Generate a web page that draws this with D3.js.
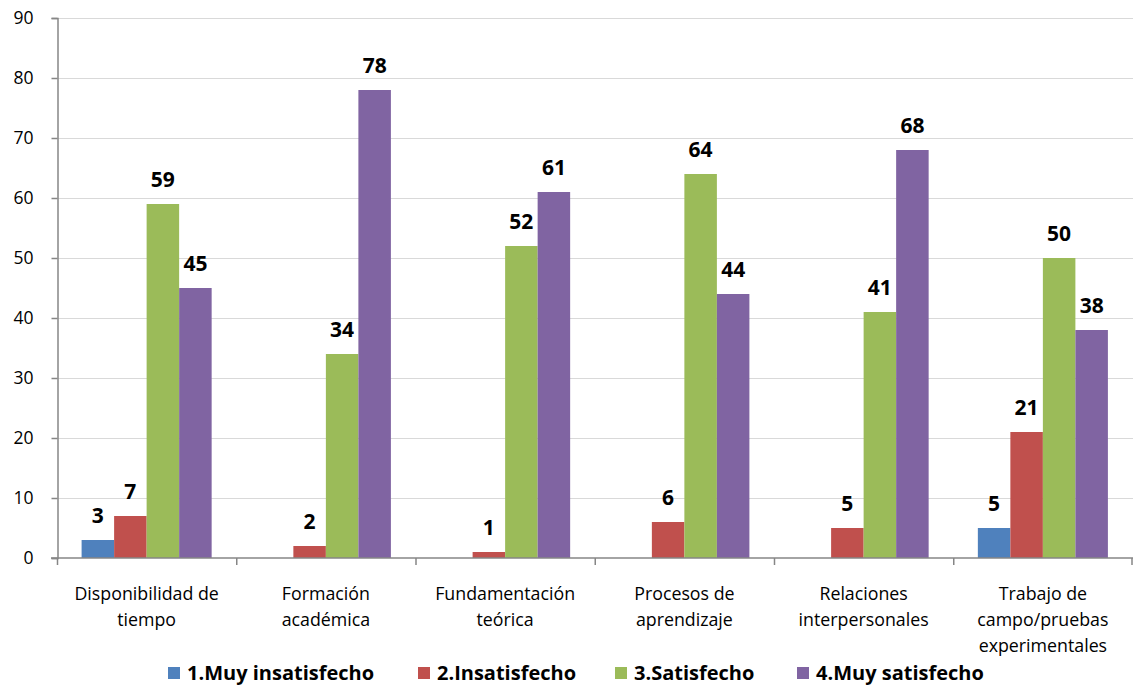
<!DOCTYPE html>
<html>
<head>
<meta charset="utf-8">
<script src="https://cdn.jsdelivr.net/npm/d3@7"></script>
<style>
  body { margin: 0; background: #fff; }
  text { font-family: "Open Sans", "Liberation Sans", sans-serif; }
</style>
</head>
<body>
<div id="chart"></div>
<script>
const categories = [
  ["Disponibilidad de", "tiempo"],
  ["Formación", "académica"],
  ["Fundamentación", "teórica"],
  ["Procesos de", "aprendizaje"],
  ["Relaciones", "interpersonales"],
  ["Trabajo de", "campo/pruebas", "experimentales"]
];
const seriesNames = ["1.Muy insatisfecho", "2.Insatisfecho", "3.Satisfecho", "4.Muy satisfecho"];
const muyInsatisfecho = [3, 0, 0, 0, 0, 5];
const insatisfecho = [7, 2, 1, 6, 5, 21];
const satisfecho = [59, 34, 52, 64, 41, 50];
const muySatisfecho = [45, 78, 61, 44, 68, 38];
const colors = ["#4f81bd", "#c0504d", "#9bbb59", "#8064a2"];
const yTicks = [0, 10, 20, 30, 40, 50, 60, 70, 80, 90];

const series = [muyInsatisfecho, insatisfecho, satisfecho, muySatisfecho];
const width = 1133, height = 686;

const svg = d3.select("#chart").append("svg")
  .attr("width", width)
  .attr("height", height);

const x = d3.scaleBand()
  .domain(d3.range(categories.length))
  .range([57, 1132.5])
  .paddingInner(0)
  .paddingOuter(0);

const inner = d3.scaleBand()
  .domain(d3.range(series.length))
  .range([24.6, x.bandwidth() - 24.6]);

const y = d3.scaleLinear()
  .domain([0, 90])
  .range([558, 18]);

// gridlines
svg.append("g")
  .selectAll("line")
  .data(yTicks.filter(d => d > 0))
  .enter().append("line")
  .attr("x1", 57).attr("x2", width)
  .attr("y1", d => y(d) + 0.5).attr("y2", d => y(d) + 0.5)
  .attr("stroke", "#d9d9d9")
  .attr("stroke-width", 1);

// bars
const groups = svg.selectAll("g.cat")
  .data(categories)
  .enter().append("g")
  .attr("class", "cat")
  .attr("transform", (d, i) => `translate(${x(i)},0)`);

groups.each(function(c, i) {
  const g = d3.select(this);
  series.forEach((s, j) => {
    const v = s[i];
    if (v <= 0) return;
    g.append("rect")
      .attr("x", inner(j))
      .attr("y", y(v))
      .attr("width", inner.bandwidth())
      .attr("height", y(0) - y(v))
      .attr("fill", colors[j]);
    g.append("text")
      .attr("x", inner(j) + inner.bandwidth() / 2)
      .attr("y", y(v) - 17)
      .attr("text-anchor", "middle")
      .attr("font-size", 21)
      .attr("font-weight", "bold")
      .attr("fill", "#000")
      .text(v);
  });
});

// y axis
const yAxis = d3.axisLeft(y)
  .tickValues(yTicks)
  .tickSize(6)
  .tickPadding(18);

const yg = svg.append("g")
  .attr("transform", "translate(57.5,0)")
  .call(yAxis);
yg.select(".domain").attr("stroke", "#868686").attr("stroke-width", 1.5);
yg.selectAll(".tick line").attr("stroke", "#868686").attr("stroke-width", 1.5);
yg.selectAll(".tick text")
  .attr("font-size", 17.5)
  .attr("fill", "#000")
  .style("font-family", "Open Sans, sans-serif");

// x axis
svg.append("line")
  .attr("x1", 51).attr("x2", width)
  .attr("y1", 558).attr("y2", 558)
  .attr("stroke", "#868686").attr("stroke-width", 1.5);

svg.append("g")
  .selectAll("line")
  .data(d3.range(categories.length + 1))
  .enter().append("line")
  .attr("x1", d => d < categories.length ? x(d) + 0.5 : x.range()[1] - 0.5)
  .attr("x2", d => d < categories.length ? x(d) + 0.5 : x.range()[1] - 0.5)
  .attr("y1", 558).attr("y2", 565)
  .attr("stroke", "#868686").attr("stroke-width", 1.5);

// category labels
groups.append("text")
  .attr("text-anchor", "middle")
  .attr("font-size", 17.8)
  .attr("fill", "#000")
  .each(function(lines) {
    const t = d3.select(this);
    lines.forEach((line, k) => {
      t.append("tspan")
        .attr("x", x.bandwidth() / 2)
        .attr("y", 600 + k * 26)
        .text(line);
    });
  });

// legend
const legendX = [168, 418, 615, 797];
const legend = svg.append("g");
seriesNames.forEach((name, j) => {
  legend.append("rect")
    .attr("x", legendX[j]).attr("y", 667)
    .attr("width", 12).attr("height", 12)
    .attr("fill", colors[j]);
  legend.append("text")
    .attr("x", legendX[j] + 19).attr("y", 680)
    .attr("font-size", 20)
    .attr("font-weight", "bold")
    .attr("fill", "#000")
    .text(name);
});
</script>
</body>
</html>
